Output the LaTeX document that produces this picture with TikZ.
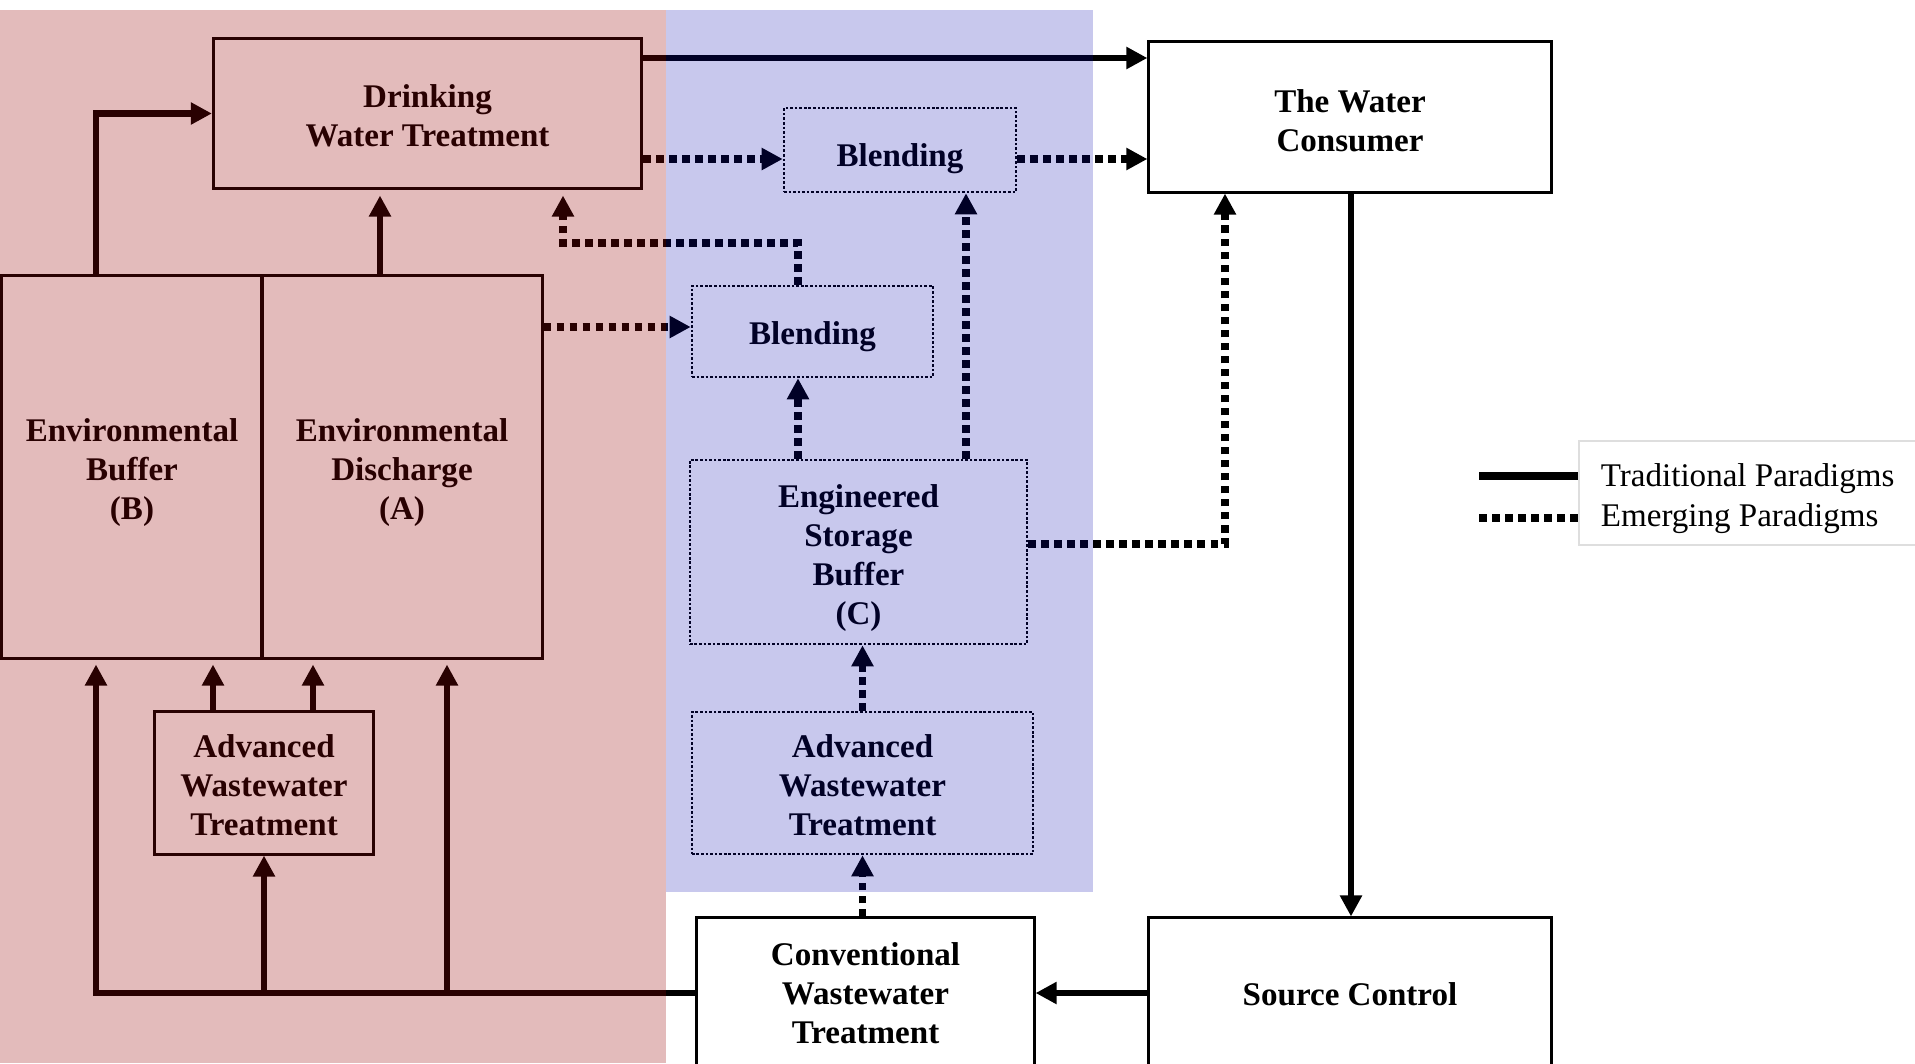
\documentclass[tikz,border=0pt]{standalone}
\usepackage{fontspec}
\setmainfont{Liberation Serif}
\usepackage{tikz}
\usetikzlibrary{arrows.meta}

\definecolor{tradred}{RGB}{152,4,7}
\definecolor{emergblue}{RGB}{5,5,177}
\definecolor{legframe}{RGB}{222,222,222}
\newcommand{\boxfont}{\bfseries\fontsize{9.4}{11.1}\selectfont}
\newcommand{\legfont}{\fontsize{9.4}{11.2}\selectfont}
\newcommand{\lift}[1]{\rule{0pt}{#1pt}}

\tikzset{
  tbox/.style={draw, line width=0.85pt, inner sep=0pt, align=center, font=\boxfont},
  ebox/.style={draw, line width=0.7pt, dash pattern=on 0.75pt off 0.55pt, inner sep=0pt, align=center, font=\boxfont},
  trad/.style={line width=1.9pt, -{Triangle[length=6pt,width=6pt]}},
  emerg/.style={line width=2pt, dash pattern=on 2.2pt off 1.5pt, -{Triangle[length=6pt,width=6pt]}}
}

\begin{document}
\begin{tikzpicture}[x=0.01cm,y=-0.01cm]
        \useasboundingbox (0,0) rectangle (1915,1063);
        \clip (0,0) rectangle (1915,1063);
        \fill[white] (0,0) rectangle (1915,1063);

        \node [tbox, minimum width=4.28cm, minimum height=1.49cm] (dwt) at (427.5,113.5) {\lift{7.8}Drinking\\Water Treatment};
        \node [ebox, minimum width=2.32cm, minimum height=0.84cm] (blendt) at (900,150) {\lift{11.2}Blending};
        \node [tbox, minimum width=4.02cm, minimum height=1.50cm] (wc) at (1350,117) {\lift{8.4}The Water\\Consumer};
        \node [tbox, minimum width=2.60cm, minimum height=3.82cm] (eb) at (132,467) {\lift{9.8}Environmental\\Buffer\\(B)};
        \node [tbox, minimum width=2.80cm, minimum height=3.82cm] (ed) at (402,467) {\lift{9.8}Environmental\\Discharge\\(A)};
        \node [ebox, minimum width=2.41cm, minimum height=0.91cm] (blendm) at (812.5,331.5) {\lift{9.3}Blending};
        \node [ebox, minimum width=3.37cm, minimum height=1.84cm] (esb) at (858.5,552) {\lift{9.8}Engineered\\Storage\\Buffer\\(C)};
        \node [tbox, minimum width=2.18cm, minimum height=1.42cm] (awtp) at (264,783) {\lift{7.8}Advanced\\Wastewater\\Treatment};
        \node [ebox, minimum width=3.41cm, minimum height=1.42cm] (awtb) at (862.5,783) {\lift{7.8}Advanced\\Wastewater\\Treatment};
        \node [tbox, minimum width=3.37cm, minimum height=1.50cm] (cwt) at (865.5,993) {Conventional\\Wastewater\\Treatment};
        \node [tbox, minimum width=4.02cm, minimum height=1.50cm] (sc) at (1350,993) {\lift{7.2}Source Control};

        \node [draw=legframe, line width=0.5pt, anchor=west, minimum height=1.0cm, inner xsep=0.22cm, align=left, font=\legfont] (legbox) at (1578,493) {\lift{9.8}Traditional Paradigms\\Emerging Paradigms};

        \coordinate (ytop) at (0,58);
        \coordinate (yblend) at (0,159);
        \coordinate (ybend) at (0,243);
        \coordinate (ymid) at (0,327);
        \coordinate (yesb) at (0,544);
        \coordinate (xb) at (96,0);
        \coordinate (xc) at (213,0);
        \coordinate (xf) at (313,0);
        \coordinate (xd) at (380,0);
        \coordinate (xe) at (447,0);
        \coordinate (xel) at (563,0);
        \coordinate (xm) at (798,0);
        \coordinate (xt) at (966,0);
        \coordinate (xr) at (1225,0);
        \coordinate (xw) at (1351,0);
        \coordinate (ltrad) at (1479,476);
        \coordinate (lemerg) at (1479,518);

        % traditional paradigms
        \draw [trad] (dwt.east |- ytop) -- (wc.west |- ytop);
        \draw [trad] (eb.north -| xb) |- (dwt.west);
        \draw [trad, shorten >=1.7pt] (ed.north -| xd) -- (dwt.south -| xd);
        \draw [trad] (wc.south -| xw) -- (sc.north -| xw);
        \draw [trad] (sc.west) -- (cwt.east);
        \draw [trad, shorten >=1.4pt] (cwt.west) -- (cwt.west -| xb) -- (eb.south -| xb);
        \draw [trad] (awtp.south |- cwt.west) -- (awtp.south);
        \draw [trad, shorten >=1.4pt] (cwt.west -| xe) -- (ed.south -| xe);
        \draw [trad, shorten >=1.4pt] (awtp.north -| xc) -- (eb.south -| xc);
        \draw [trad, shorten >=1.4pt] (awtp.north -| xf) -- (ed.south -| xf);

        % emerging paradigms
        \draw [emerg] (dwt.east |- yblend) -- (blendt.west |- yblend);
        \draw [emerg] (blendt.east |- yblend) -- (wc.west |- yblend);
        \draw [emerg, shorten >=1.7pt] (blendm.north -| xm) -- (xm |- ybend) -- (xel |- ybend) -- (dwt.south -| xel);
        \draw [emerg] (ed.east |- ymid) -- (blendm.west |- ymid);
        \draw [emerg] (esb.north -| xm) -- (blendm.south -| xm);
        \draw [emerg] (esb.north -| xt) -- (blendt.south -| xt);
        \draw [emerg] (esb.east |- yesb) -| (wc.south -| xr);
        \draw [emerg] (awtb.north) -- (esb.south -| awtb.north);
        \draw [emerg] (cwt.north -| awtb.south) -- (awtb.south);

        % legend
        \draw [line width=2pt] (ltrad) -- (ltrad -| legbox.west);
        \draw [line width=2pt, dash pattern=on 2.2pt off 1.5pt] (lemerg) -- (lemerg -| legbox.west);

        % shaded regions
        \fill [tradred, opacity=0.27] (0,10) rectangle (666,1063);
        \fill [emergblue, opacity=0.22] (666,10) rectangle (1093,892);
    \end{tikzpicture}
\end{document}
